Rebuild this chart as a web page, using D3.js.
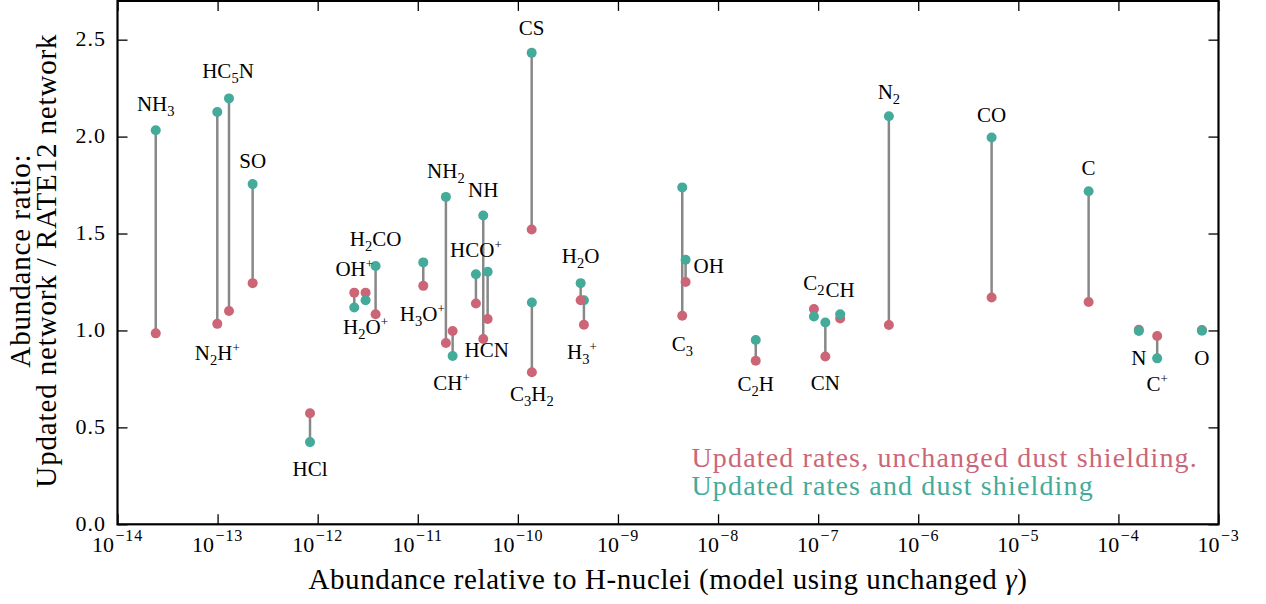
<!DOCTYPE html>
<html>
<head>
<meta charset="utf-8">
<script src="https://cdn.jsdelivr.net/npm/d3@7"></script>
<style>
  body { margin: 0; background: #fff; }
  svg { display: block; }
</style>
</head>
<body>
<svg id="chart" width="1266" height="604"></svg>
<script>
// Species, in drawing order
const species = ["NH3","N2H+","HC5N","SO","HCl","OH+","H2O+","H2CO","H3O+","NH2","CH+",
  "HCO+","NH","HCN","CS","C3H2","H3+","H2O","C3","OH","C2H","C2","CN","CH","N2","CO","C","N","C+","O"];

// Abundance relative to H-nuclei (model using unchanged gamma)
const abundance = [2.41e-14, 9.93e-14, 1.30e-13, 2.24e-13, 8.38e-13, 2.32e-12, 3.01e-12, 3.79e-12,
  1.135e-11, 1.91e-11, 2.23e-11, 3.81e-11, 4.51e-11, 4.99e-11, 1.374e-10, 1.38e-10, 4.57e-10, 4.24e-10,
  4.39e-9, 4.74e-9, 2.38e-8, 9.08e-8, 1.18e-7, 1.66e-7, 5.09e-7, 5.41e-6, 5.04e-5, 1.60e-4, 2.44e-4, 6.83e-4];

// Abundance ratio, updated rates with unchanged dust shielding
const ratioUnchangedShielding = [0.985, 1.034, 1.100, 1.244, 0.573, 1.195, 1.195, 1.084,
  1.230, 0.935, 0.997, 1.139, 0.956, 1.059, 1.521, 0.784, 1.029, 1.156,
  1.076, 1.250, 0.844, 1.110, 0.866, 1.062, 1.028, 1.170, 1.147, 1.003, 0.971, 1.002];

// Abundance ratio, updated rates and dust shielding
const ratioUpdatedShielding = [2.033, 2.127, 2.197, 1.755, 0.424, 1.118, 1.156, 1.332,
  1.351, 1.689, 0.868, 1.290, 1.593, 1.303, 2.432, 1.144, 1.156, 1.244,
  1.738, 1.365, 0.951, 1.072, 1.041, 1.084, 2.105, 1.995, 1.718, 0.997, 0.856, 0.998];

// Label markup: _x subscript, ^x superscript
const labelText = ["NH_3","N_2H^+","HC_5N","SO","HCl","OH^+","H_2O^+","H_2CO","H_3O^+","NH_2","CH^+",
  "HCO^+","NH","HCN","CS","C_3H_2","H_3^+","H_2O","C_3","OH","C_2H","C_2","CN","CH","N_2","CO","C","N","C^+","O"];

const yTicks = [0, 0.5, 1.0, 1.5, 2.0, 2.5];
const xTickExponents = [-14, -13, -12, -11, -10, -9, -8, -7, -6, -5, -4, -3];
const legendEntries = ["Updated rates, unchanged dust shielding.", "Updated rates and dust shielding"];

// Label placement: side (above the upper point / below the lower point), dx, dy in px
const labelPlacement = {
  "NH3": ["top", 0, -19], "N2H+": ["bottom", 0, 36], "HC5N": ["top", -1, -20], "SO": ["top", 0, -16],
  "HCl": ["bottom", 0, 34], "OH+": ["top", 0, -17], "H2O+": ["bottom", 0, 34], "H2CO": ["top", 0, -20],
  "H3O+": ["bottom", -1, 35], "NH2": ["top", 0, -19], "CH+": ["bottom", -1, 34], "HCO+": ["top", 0, -17],
  "NH": ["top", 0, -18], "HCN": ["bottom", -1, 38], "CS": ["top", 0, -18], "C3H2": ["bottom", 0, 29],
  "H3+": ["bottom", -2, 34], "H2O": ["top", 0, -20], "C3": ["bottom", 0, 35], "OH": ["topright", 8, 13],
  "C2H": ["bottom", 0, 30], "C2": ["top", 0, -19], "CN": ["bottom", 0, 34], "CH": ["top", 0, -17],
  "N2": ["top", 0, -17], "CO": ["top", 0, -16], "C": ["top", 0, -16], "N": ["bottom", 0, 34],
  "C+": ["bottom", 0, 33], "O": ["bottom", 0, 34]
};

const colorUnchanged = "#CC6677";
const colorUpdated = "#44AA99";
const serif = "'Liberation Serif', 'DejaVu Serif', 'Noto Serif', serif";

const svg = d3.select("#chart").attr("font-family", serif);
const plot = { left: 117.5, right: 1218.5, top: 0.9, bottom: 524.3 };

const x = d3.scaleLog().domain([1e-14, 1e-3]).range([plot.left, plot.right]);
const y = d3.scaleLinear().domain([0, 2.7]).range([plot.bottom, plot.top]);

const rows = species.map((s, i) => ({
  name: s, label: labelText[i], ab: abundance[i],
  red: ratioUnchangedShielding[i], teal: ratioUpdatedShielding[i]
}));

// Ticks on all four sides, pointing inward
const xTickVals = xTickExponents.map(e => Math.pow(10, e));
const tickLen = 10;
function styleAxis(g) {
  g.select(".domain").remove();
  g.selectAll(".tick line").attr("stroke", "#000").attr("stroke-width", 1.3);
}
svg.append("g").attr("transform", `translate(0,${plot.bottom})`)
  .call(d3.axisBottom(x).tickValues(xTickVals).tickSize(-tickLen).tickFormat(""))
  .call(styleAxis);
svg.append("g").attr("transform", `translate(0,${plot.top})`)
  .call(d3.axisTop(x).tickValues(xTickVals).tickSize(-tickLen).tickFormat(""))
  .call(styleAxis);
svg.append("g").attr("transform", `translate(${plot.left},0)`)
  .call(d3.axisLeft(y).tickValues(yTicks).tickSize(-tickLen).tickFormat(""))
  .call(styleAxis);
svg.append("g").attr("transform", `translate(${plot.right},0)`)
  .call(d3.axisRight(y).tickValues(yTicks).tickSize(-tickLen).tickFormat(""))
  .call(styleAxis);

function serifText(sel) {
  return sel.attr("font-family", serif).attr("fill", "#000");
}

// X tick labels: 10^n
const xl = svg.append("g");
xTickExponents.forEach(e => {
  const t = serifText(xl.append("text"))
    .attr("x", x(Math.pow(10, e)))
    .attr("y", 551.5)
    .attr("text-anchor", "middle")
    .attr("font-size", 22);
  t.append("tspan").text("10");
  t.append("tspan").attr("dx", 1.5).attr("dy", -10.5).attr("font-size", 16)
    .attr("letter-spacing", 0.8).text("\u2212" + Math.abs(e));
});

// Y tick labels
serifText(svg.append("g").selectAll("text").data(yTicks).join("text"))
  .attr("x", 106)
  .attr("y", d => y(d) + 6.5)
  .attr("text-anchor", "end")
  .attr("font-size", 22)
  .attr("letter-spacing", 1)
  .text(d => d.toFixed(1));

// Axis titles
const xt = serifText(svg.append("text"))
  .attr("x", (plot.left + plot.right) / 2)
  .attr("y", 589)
  .attr("text-anchor", "middle")
  .attr("font-size", 29)
  .attr("letter-spacing", 0.6);
xt.append("tspan").text("Abundance relative to H-nuclei (model using unchanged ");
xt.append("tspan").attr("font-style", "italic").text("\u03b3");
xt.append("tspan").text(")");

const yMid = (plot.top + plot.bottom) / 2;
[["Abundance ratio:", 30], ["Updated network / RATE12 network", 56]].forEach(([s, bx]) => {
  serifText(svg.append("text"))
    .attr("transform", `translate(${bx},${yMid - 2}) rotate(-90)`)
    .attr("text-anchor", "middle")
    .attr("font-size", 29)
    .attr("letter-spacing", 0.85)
    .text(s);
});

// Stems and markers
const marks = svg.append("g");
const r = 5;
rows.forEach(d => {
  const g = marks.append("g");
  g.append("line")
    .attr("x1", x(d.ab)).attr("x2", x(d.ab))
    .attr("y1", y(d.red)).attr("y2", y(d.teal))
    .attr("stroke", "#888888").attr("stroke-width", 2.5);
  g.append("circle").attr("cx", x(d.ab)).attr("cy", y(d.red)).attr("r", r).attr("fill", colorUnchanged);
  g.append("circle").attr("cx", x(d.ab)).attr("cy", y(d.teal)).attr("r", r).attr("fill", colorUpdated);
});

// Species labels with sub/superscripts
function addMarkup(textSel, markup) {
  const tokens = markup.match(/_\{[^}]*\}|_.|\^\{[^}]*\}|\^.|[^_^]+/g);
  let offset = 0;
  const shift = { sub: 5, sup: -8, base: 0 };
  tokens.forEach(tok => {
    let kind = "base", s = tok;
    if (tok[0] === "_") { kind = "sub"; s = tok.slice(1).replace(/[{}]/g, ""); }
    else if (tok[0] === "^") { kind = "sup"; s = tok.slice(1).replace(/[{}]/g, ""); }
    const target = shift[kind];
    const ts = textSel.append("tspan").attr("dy", target - offset).text(s);
    if (kind !== "base") ts.attr("font-size", kind === "sup" ? 13 : 14.5);
    offset = target;
  });
}

const labels = svg.append("g");
rows.forEach(d => {
  const [side, dx, dy] = labelPlacement[d.name];
  const yTop = Math.min(y(d.red), y(d.teal));
  const yBot = Math.max(y(d.red), y(d.teal));
  let ax = x(d.ab) + dx, ay, anchor = "middle";
  if (side === "top") ay = yTop + dy;
  else if (side === "bottom") ay = yBot + dy;
  else { ay = y(d.teal) + dy; anchor = "start"; }
  const t = serifText(labels.append("text"))
    .attr("x", ax).attr("y", ay)
    .attr("text-anchor", anchor)
    .attr("font-size", 21);
  addMarkup(t, d.label);
});

// Legend as coloured text
[[legendEntries[0], colorUnchanged, 467.3], [legendEntries[1], colorUpdated, 495]].forEach(([s, c, by]) => {
  svg.append("text")
    .attr("font-family", serif)
    .attr("x", 691.5).attr("y", by)
    .attr("font-size", 28)
    .attr("letter-spacing", 1.15)
    .attr("fill", c)
    .text(s);
});

// Frame
svg.append("rect")
  .attr("x", plot.left).attr("y", plot.top)
  .attr("width", plot.right - plot.left).attr("height", plot.bottom - plot.top)
  .attr("fill", "none").attr("stroke", "#000").attr("stroke-width", 2.2);
</script>
</body>
</html>
